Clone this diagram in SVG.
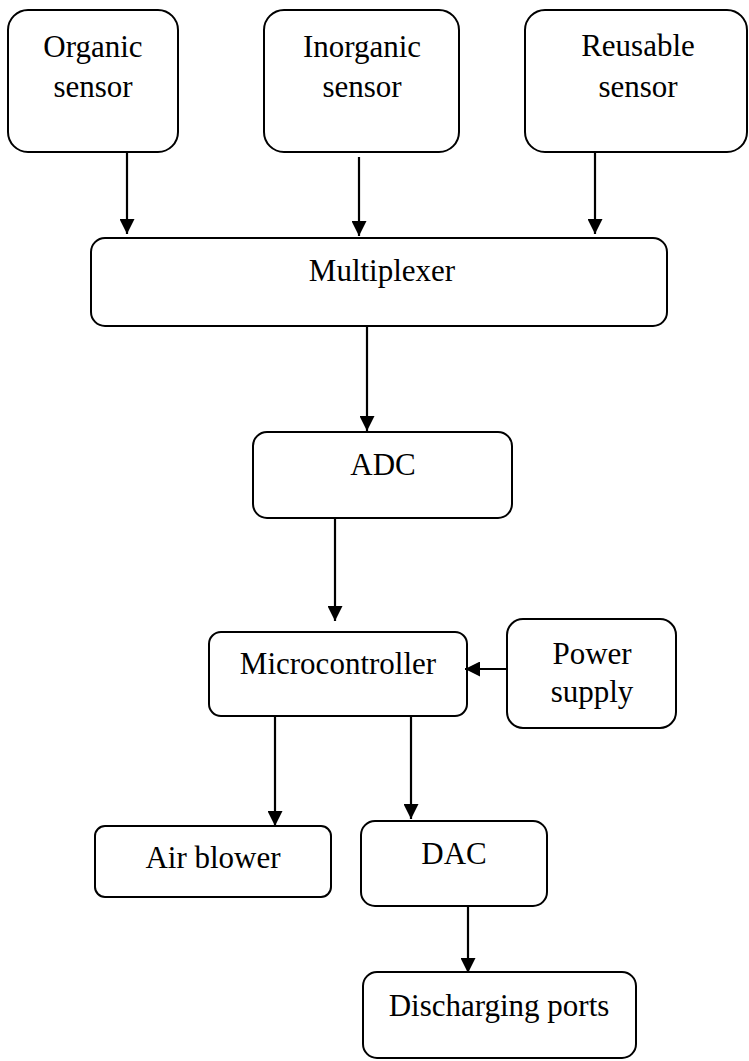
<svg xmlns="http://www.w3.org/2000/svg" width="749" height="1061" viewBox="0 0 749 1061">
<defs>
<marker id="ah" markerUnits="userSpaceOnUse" markerWidth="15" markerHeight="15" refX="15" refY="7.5" orient="auto"><path d="M0,0 L15,7.5 L0,15 z" fill="#000"/></marker>
<style>
.box{fill:#fff;stroke:#000;stroke-width:2}
.t{font-family:"Liberation Serif","Times New Roman",serif;font-size:31px;fill:#000;text-anchor:middle}
.c{stroke:#000;stroke-width:2.2;fill:none;marker-end:url(#ah)}
</style>
</defs>
<rect width="749" height="1061" fill="#fff"/>
<g id="organic"><rect class="box" x="8" y="10" width="170" height="142" rx="20"/><text class="t" x="93" y="57">Organic</text><text class="t" x="93" y="97">sensor</text></g>
<g id="inorganic"><rect class="box" x="264" y="10" width="195" height="142" rx="20"/><text class="t" x="362" y="57">Inorganic</text><text class="t" x="362" y="97">sensor</text></g>
<g id="reusable"><rect class="box" x="525" y="10" width="222" height="142" rx="20"/><text class="t" x="638" y="56">Reusable</text><text class="t" x="638" y="97">sensor</text></g>
<g id="multiplexer"><rect class="box" x="91" y="238" width="576" height="88" rx="14"/><text class="t" x="382" y="281">Multiplexer</text></g>
<g id="adc"><rect class="box" x="253" y="432" width="259" height="86" rx="14"/><text class="t" x="383" y="475">ADC</text></g>
<g id="microcontroller"><rect class="box" x="209" y="632" width="258" height="84" rx="12"/><text class="t" x="338" y="674">Microcontroller</text></g>
<g id="power"><rect class="box" x="507" y="619" width="169" height="109" rx="16"/><text class="t" x="592" y="664">Power</text><text class="t" x="592" y="702">supply</text></g>
<g id="airblower"><rect class="box" x="95" y="826" width="236" height="71" rx="10"/><text class="t" x="213" y="868">Air blower</text></g>
<g id="dac"><rect class="box" x="361" y="821" width="186" height="85" rx="14"/><text class="t" x="454" y="864">DAC</text></g>
<g id="discharging"><rect class="box" x="363" y="972" width="273" height="86" rx="14"/><text class="t" x="499" y="1016">Discharging ports</text></g>
<g id="connectors">
<line class="c" x1="127" y1="152" x2="127" y2="234"/>
<line class="c" x1="359" y1="157" x2="359" y2="236"/>
<line class="c" x1="595" y1="152" x2="595" y2="234"/>
<line class="c" x1="367" y1="326" x2="367" y2="431"/>
<line class="c" x1="335" y1="518" x2="335" y2="621"/>
<line class="c" x1="507" y1="669" x2="465" y2="669"/>
<line class="c" x1="275" y1="716" x2="275" y2="826"/>
<line class="c" x1="411" y1="716" x2="411" y2="819"/>
<line class="c" x1="468" y1="906" x2="468" y2="973"/>
</g>
</svg>
